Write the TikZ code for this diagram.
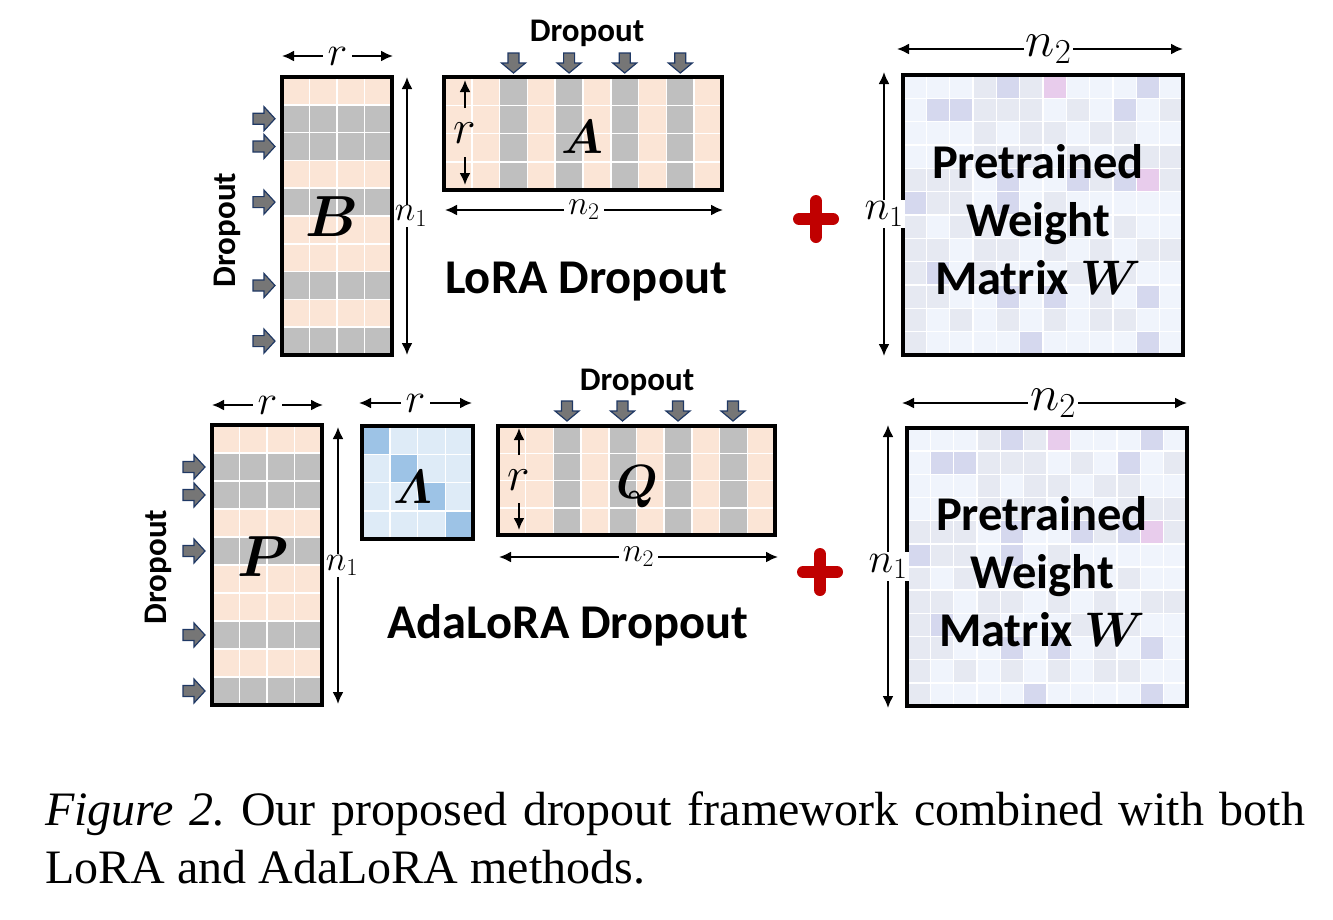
\RequirePackage{fix-cm}
\documentclass[tikz,border=0pt]{standalone}
\usepackage{amsmath}
\usepackage{fontspec}
\usepackage{bm}
\setmainfont{Liberation Serif}
\newfontfamily\carlito{Carlito}
\usetikzlibrary{arrows.meta}
\definecolor{peach}{HTML}{FBE5D6}
\definecolor{grayc}{HTML}{BFBFBF}
\definecolor{lblue}{HTML}{DEEBF7}
\definecolor{dblue}{HTML}{9DC3E6}
\definecolor{wc0}{HTML}{F0F4FC}
\definecolor{wc1}{HTML}{E6E9F2}
\definecolor{wc2}{HTML}{D5D8EE}
\definecolor{wc3}{HTML}{E8CCEC}
\definecolor{arrfill}{HTML}{767676}
\definecolor{arrline}{HTML}{1F3864}
\definecolor{plusred}{HTML}{C00000}
\tikzset{
  frame/.style={draw=black, line width=3.5pt, inner sep=0pt},
  dim/.style={line width=2pt, {Latex[length=12pt,width=11pt]}-{Latex[length=12pt,width=11pt]}},
  half/.style={line width=2pt, -{Latex[length=12pt,width=11pt]}},
  dimlab/.style={fill=white, inner sep=3pt},
  gridline/.style={white, line width=1.5pt},
  bigtxt/.style={font=\carlito\bfseries\fontsize{48.5}{58}\selectfont, align=center},
  droptxt/.style={font=\carlito\bfseries\fontsize{33}{36}\selectfont},
  plus/.style={plusred, line width=12pt, line cap=round},
  rarr/.pic={\filldraw[fill=arrfill, draw=arrline, line width=1.2pt, line join=miter]
     (0,-5.5) -- (11,-5.5) -- (11,-12) -- (22,0) -- (11,12) -- (11,5.5) -- (0,5.5) -- cycle;},
  darr/.pic={\filldraw[fill=arrfill, draw=arrline, line width=1.2pt, line join=miter]
     (-5.5,0) -- (-5.5,10) -- (-12,10) -- (0,20) -- (12,10) -- (5.5,10) -- (5.5,0) -- cycle;},
}
\newcommand{\gridlines}[6]{%
  \foreach \k in {1,...,#5} {\ifnum\k<#5 \draw[gridline] ({#1+\k*(#3-#1)/#5},#2) -- ({#1+\k*(#3-#1)/#5},#4);\fi}
  \foreach \k in {1,...,#6} {\ifnum\k<#6 \draw[gridline] (#1,{#2+\k*(#4-#2)/#6}) -- (#3,{#2+\k*(#4-#2)/#6});\fi}
}
% tall matrix: x0 y0 x1 y1, 4 cols, 10 rows, gray rows 2,3,5,8,10
\newcommand{\tallmat}[4]{%
  \fill[peach] (#1,#2) rectangle (#3,#4);
  \foreach \k in {2,3,5,8,10} \fill[grayc] (#1,{#2+(\k-1)*(#4-#2)/10}) rectangle (#3,{#2+\k*(#4-#2)/10});
  \gridlines{#1}{#2}{#3}{#4}{4}{10}
}
% wide matrix: 10 cols, 4 rows, gray cols 3,5,7,9
\newcommand{\widemat}[4]{%
  \fill[peach] (#1,#2) rectangle (#3,#4);
  \foreach \k in {3,5,7,9} \fill[grayc] ({#1+(\k-1)*(#3-#1)/10},#2) rectangle ({#1+\k*(#3-#1)/10},#4);
  \gridlines{#1}{#2}{#3}{#4}{10}{4}
}
\def\Wpattern{{0,0,0,1,2,1,3,0,0,0,2,0},{0,2,2,1,1,1,0,1,0,2,0,1},{0,0,0,1,0,1,1,0,1,1,0,0},{0,0,0,1,1,1,0,1,0,1,1,1},{1,1,1,0,2,0,0,2,1,2,3,1},{2,1,1,0,2,0,1,0,0,0,0,0},{1,0,1,1,0,1,0,1,0,1,0,0},{1,1,0,1,1,0,1,0,1,0,1,1},{1,2,0,1,0,0,0,1,0,1,0,0},{1,1,0,0,2,0,2,0,1,0,2,0},{1,0,1,0,1,0,1,0,1,1,0,0},{1,0,0,0,0,2,0,0,0,0,2,0}}
\newcommand{\wmat}[4]{%
  \foreach \row [count=\j] in \Wpattern {
    \foreach \cv [count=\i] in \row {
      \edef\cc{wc\cv}
      \fill[fill=\cc] ({#1+(\i-1)*(#3-#1)/12},{#2+(\j-1)*(#4-#2)/12}) rectangle ({#1+\i*(#3-#1)/12},{#2+\j*(#4-#2)/12});
    }
  }
  \gridlines{#1}{#2}{#3}{#4}{12}{12}
}
\frenchspacing
\begin{document}
\begin{tikzpicture}[x=1pt,y=-1pt]
\useasboundingbox (0,0) rectangle (1333,919);

% n1 dimension arrows beside the tall matrices (drawn first so the frames stay on top)
\draw[dim] (407,77) -- node[dimlab, font=\fontsize{35}{40}\selectfont, inner sep=1pt, xshift=4pt]{$n_1$} (407,355);
\draw[dim] (338,427) -- node[dimlab, font=\fontsize{35}{40}\selectfont, inner sep=1pt, xshift=4pt]{$n_1$} (338,704);

% ================= TOP: LoRA =================
% B
\tallmat{282}{77}{392}{355}
\node[frame, minimum width=110pt, minimum height=278pt] (B) at (337,216) {};
\node[font=\fontsize{58}{60}\selectfont] (Blab) at (332,217) {$\bm{B}$};
\foreach \y in {118.7,146.5,202.1,285.5,341.1} \pic at (253,\y) {rarr};
\node[droptxt, rotate=90] (drop1) at (227,230) {Dropout};
\draw[dim] (282,56) -- node[dimlab, font=\fontsize{42}{44}\selectfont, inner sep=5pt]{$r$} (393,56);

% A
\widemat{444}{77}{722}{190}
\node[frame, minimum width=278pt, minimum height=113pt] (A) at (583,133.5) {};
\node[font=\fontsize{48}{50}\selectfont] (Alab) at (582,137) {$\bm{A}$};
\foreach \x in {513.5,569.1,624.7,680.3} \pic at (\x,53) {darr};
\node[droptxt] (drop2) at (587,33) {Dropout};
\node[font=\fontsize{48}{50}\selectfont] (rA) at (465,133) {$r$};
\draw[half] (465,108) -- (465,80);
\draw[half] (465,157) -- (465,185);
\draw[dim] (445,210) -- node[dimlab, font=\fontsize{34}{36}\selectfont, inner sep=4pt]{$n_2$} (723,210);

\node[bigtxt] (lora) at (586,282) {LoRA Dropout};

% plus
\draw[plus] (799,219) -- (833,219) (816,201) -- (816,237);

% W top
\wmat{903}{75}{1183}{355}
\node[frame, minimum width=280pt, minimum height=280pt] (W1) at (1043,215) {};
\node[bigtxt] (W1lab) at (1038,220) {Pretrained\\Weight\\Matrix $\bm{W}$};
\draw[dim] (897,49) -- node[dimlab, font=\fontsize{50}{52}\selectfont, inner sep=2pt, pos=0.53]{$n_2$} (1183,49);
\draw[dim] (884,72) -- node[dimlab, font=\fontsize{42}{44}\selectfont, inner sep=2pt]{$n_1$} (884,356);

% ================= BOTTOM: AdaLoRA =================
% P
\tallmat{212}{425}{322}{705}
\node[frame, minimum width=110pt, minimum height=280pt] (P) at (267,565) {};
\node[font=\fontsize{58}{60}\selectfont] (Plab) at (263,557) {$\bm{P}$};
\foreach \y in {467,495,551,635,691} \pic at (183,\y) {rarr};
\node[droptxt, rotate=90] (drop3) at (158,567) {Dropout};
\draw[dim] (212,405) -- node[dimlab, font=\fontsize{42}{44}\selectfont, inner sep=5pt]{$r$} (323,405);

% Lambda
\fill[lblue] (362,426) rectangle (473,539);
\foreach \k in {1,2,3,4} \fill[dblue] ({362+(\k-1)*111/4},{426+(\k-1)*113/4}) rectangle ({362+\k*111/4},{426+\k*113/4});
\gridlines{362}{426}{473}{539}{4}{4}
\node[frame, minimum width=111pt, minimum height=113pt] (L) at (417.5,482.5) {};
\node[font=\fontsize{48}{50}\selectfont] (Llab) at (413,487) {$\bm{\varLambda}$};
\draw[dim] (359,403) -- node[dimlab, font=\fontsize{42}{44}\selectfont, inner sep=5pt]{$r$} (472,403);

% Q
\widemat{498}{426}{775}{535}
\node[frame, minimum width=277pt, minimum height=109pt] (Q) at (636.5,480.5) {};
\node[font=\fontsize{48}{50}\selectfont] (Qlab) at (637,487) {$\bm{Q}$};
\foreach \x in {567,622.5,678,733} \pic at (\x,401) {darr};
\node[droptxt] (drop4) at (637,382) {Dropout};
\node[font=\fontsize{48}{50}\selectfont] (rQ) at (519,480) {$r$};
\draw[half] (519,455) -- (519,428);
\draw[half] (519,503) -- (519,530);
\draw[dim] (499,557) -- node[dimlab, font=\fontsize{34}{36}\selectfont, inner sep=4pt]{$n_2$} (778,557);

\node[bigtxt] (adalora) at (568,625) {AdaLoRA Dropout};

% plus
\draw[plus] (803,572) -- (837,572) (820,554) -- (820,590);

% W bottom
\wmat{907}{428}{1187}{706}
\node[frame, minimum width=280pt, minimum height=278pt] (W2) at (1047,567) {};
\node[bigtxt] (W2lab) at (1042,572) {Pretrained\\Weight\\Matrix $\bm{W}$};
\draw[dim] (902,403) -- node[dimlab, font=\fontsize{50}{52}\selectfont, inner sep=2pt, pos=0.53]{$n_2$} (1187,403);
\draw[dim] (888,425) -- node[dimlab, font=\fontsize{42}{44}\selectfont, inner sep=2pt]{$n_1$} (888,708);

% ================= caption =================
\node[anchor=base west, inner sep=0pt, font=\fontsize{48}{58}\selectfont] (cap1) at (45,825) {\makebox[1260pt][s]{\textit{Figure 2.} Our proposed dropout framework combined with both}};
\node[anchor=base west, inner sep=0pt, font=\fontsize{48}{58}\selectfont] (cap2) at (45,883) {LoRA and AdaLoRA methods.};
\end{tikzpicture}
\end{document}
